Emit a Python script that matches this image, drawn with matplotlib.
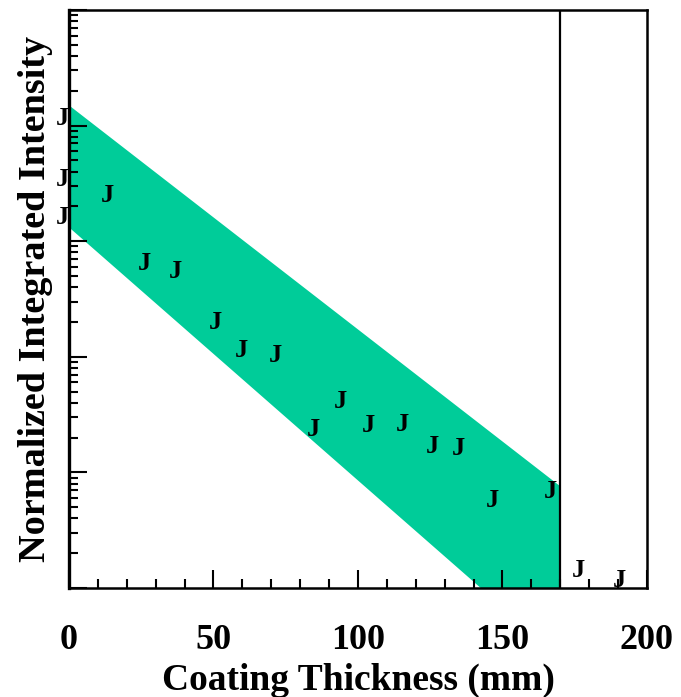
import matplotlib
matplotlib.use('Agg')
from matplotlib import pyplot as plt
from matplotlib.ticker import LogLocator, MultipleLocator, NullFormatter

# measured points (coating thickness, normalized intensity)
thickness = [0, 0, 0, 15.5, 28.2, 39.1, 52.9, 62.0, 73.7, 86.9, 96.0, 105.8,
             117.4, 127.8, 136.8, 148.8, 168.8, 178.6, 192.7]
intensity = [1.15, 0.34, 0.16, 0.247, 0.0635, 0.0545, 0.0198, 0.0114, 0.0102,
             0.00233, 0.0041, 0.00252, 0.00262, 0.00166, 0.00161, 5.7e-4, 6.8e-4,
             1.43e-4, 1.17e-4]

# shaded band (edges straight on the log scale)
band_x = [0, 170]
band_hi = [1.5, 7.6e-4]
band_lo = [0.132, 2.5e-5]

cutoff = 170

plt.rcParams['font.family'] = ['Liberation Serif', 'DejaVu Serif']
plt.rcParams['font.weight'] = 'bold'

fig = plt.figure(figsize=(6.81, 6.97), dpi=100)
ax = fig.add_axes([0.1013, 0.1564, 0.8487, 0.8293])

ax.fill_between(band_x, band_lo, band_hi, color='#00cc99', linewidth=0, zorder=1)
ax.axvline(cutoff, color='black', linewidth=1.6, zorder=2)

for x, y in zip(thickness, intensity):
    ax.annotate('J', (x, y), xytext=(-4.5, 0), textcoords='offset points',
                ha='center', va='center', fontsize=19, fontweight='bold',
                color='black', zorder=3, annotation_clip=False)

ax.set_yscale('log')
ax.set_xlim(0, 200)
ax.set_ylim(1e-4, 10)

ax.xaxis.set_major_locator(MultipleLocator(50))
ax.xaxis.set_minor_locator(MultipleLocator(10))
ax.yaxis.set_major_locator(LogLocator(base=10, numticks=10))
ax.yaxis.set_minor_locator(LogLocator(base=10, subs=range(2, 10), numticks=50))
ax.yaxis.set_major_formatter(NullFormatter())
ax.yaxis.set_minor_formatter(NullFormatter())

ax.tick_params(which='both', direction='in', width=1.5, color='black',
               top=False, right=False)
ax.tick_params(which='major', length=13)
ax.tick_params(which='minor', length=6.5)
ax.tick_params(axis='x', which='major', labelsize=26, pad=26)

for s in ax.spines.values():
    s.set_linewidth(1.8)
ax.spines['left'].set_linewidth(2.4)

ax.set_xlabel('Coating Thickness (mm)', fontsize=27, fontweight='bold', labelpad=4)
ax.set_ylabel('Normalized Integrated Intensity', fontsize=27.5, fontweight='bold', labelpad=8)

fig.savefig('out.png', dpi=100)
